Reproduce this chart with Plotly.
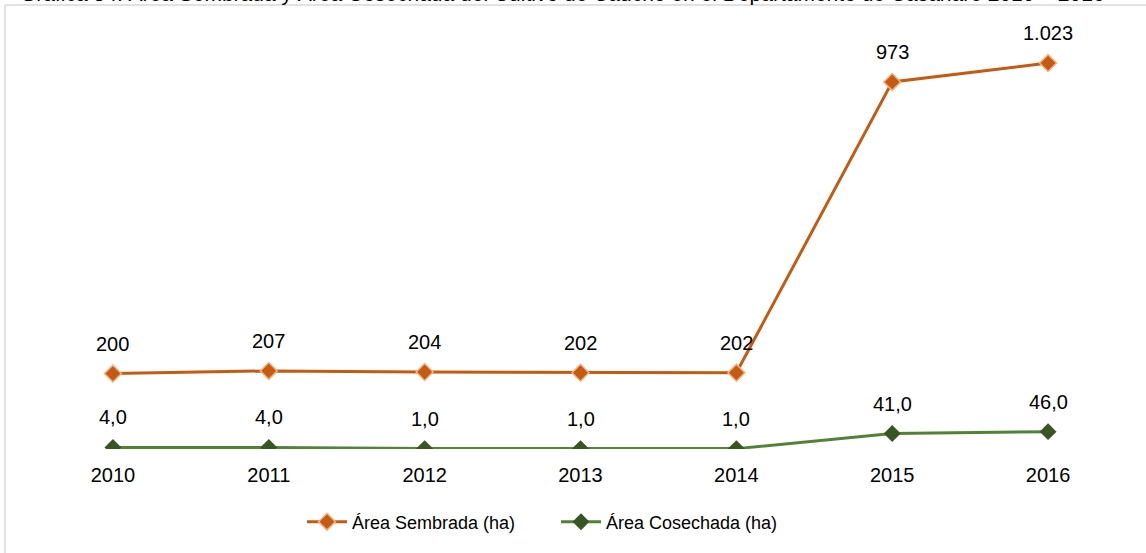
import plotly.graph_objects as go

years = ["2010", "2011", "2012", "2013", "2014", "2015", "2016"]
sembrada = [200, 207, 204, 202, 202, 973, 1023]
cosechada = [4.0, 4.0, 1.0, 1.0, 1.0, 41.0, 46.0]
sembrada_txt = ["200", "207", "204", "202", "202", "973", "1.023"]
cosechada_txt = ["4,0", "4,0", "1,0", "1,0", "1,0", "41,0", "46,0"]

W, H = 1146, 553
ml, mr, mt, mb = 35, 20, 34, 104
pw, ph = W - ml - mr, H - mt - mb


def px(x):
    return (x - ml) / pw


def py(y):
    return (H - mb - y) / ph


FAM = "Arial, Liberation Sans, sans-serif"
lbl_font = dict(family=FAM, size=20, color="#000000")

fig = go.Figure()
fig.add_trace(go.Scatter(
    x=years, y=sembrada, mode="lines+markers", name="Área Sembrada (ha)",
    line=dict(color="#C55A11", width=3),
    marker=dict(symbol="diamond", size=13, color="#C55A11",
                line=dict(color="#F4B183", width=1.5)),
))
fig.add_trace(go.Scatter(
    x=years, y=cosechada, mode="lines+markers", name="Área Cosechada (ha)",
    line=dict(color="#548235", width=3),
    marker=dict(symbol="diamond", size=13, color="#375623"),
))

# data labels; category axis -> position by index
annots = []
for ys, ts in [(sembrada, sembrada_txt), (cosechada, cosechada_txt)]:
    for i, (y, t) in enumerate(zip(ys, ts)):
        annots.append(dict(x=i, y=y, text=t, showarrow=False, yshift=30,
                           xanchor="center", yanchor="middle", font=lbl_font))

annots.append(dict(
    text="Gráfica 54. Área Sembrada y Área Cosechada del Cultivo de Caucho en el Departamento de Casanare 2010 – 2016",
    xref="paper", yref="paper", x=px(562), y=py(7), xanchor="center", yanchor="bottom",
    showarrow=False, font=dict(family=FAM, size=21, color="#000000"),
))

fig.update_layout(
    width=W, height=H,
    margin=dict(l=ml, r=mr, t=mt, b=mb, autoexpand=False),
    paper_bgcolor="white", plot_bgcolor="white",
    font=lbl_font,
    showlegend=True,
    legend=dict(orientation="h", x=px(556), xanchor="center", y=py(522), yanchor="middle",
                font=dict(family=FAM, size=18, color="#000000"), tracegroupgap=0,
                entrywidth=199, itemwidth=40),
    xaxis=dict(type="category", range=[-0.5, 6.5], showgrid=False, showline=False,
               zeroline=False, ticks="", tickfont=lbl_font, ticklabelstandoff=12),
    yaxis=dict(range=[0, 1100], visible=False, showgrid=False, zeroline=False),
    shapes=[
        dict(type="line", xref="paper", yref="paper", x0=px(5), x1=px(5), y0=py(5), y1=py(560),
             line=dict(color="#D9D9D9", width=1.5)),
        dict(type="line", xref="paper", yref="paper", x0=px(5), x1=px(1150), y0=py(5), y1=py(5),
             line=dict(color="#D9D9D9", width=1.5)),
    ],
    annotations=annots,
)

# page body has an 8px default margin; drop it so the chart fills the window
fig.write_html("out.html", config={"displayModeBar": False},
               post_script="document.body.style.margin='0';")
